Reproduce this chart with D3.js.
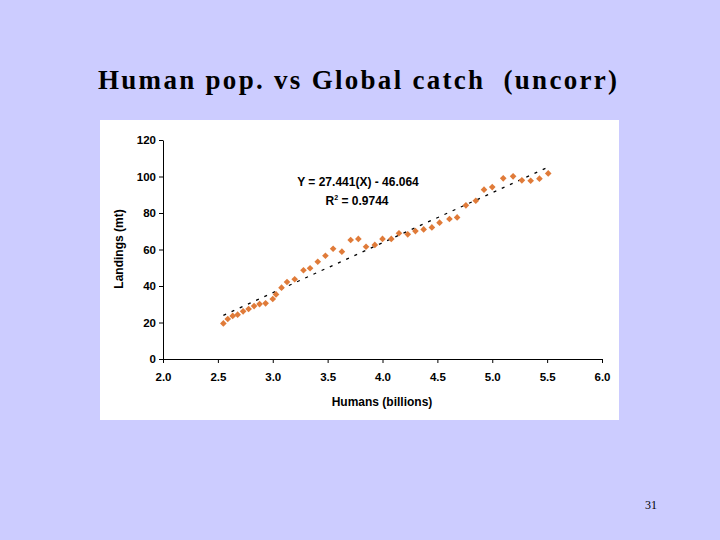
<!DOCTYPE html><html><head><meta charset="utf-8"><script src="https://cdn.jsdelivr.net/npm/d3@7"></script>
<style>body{margin:0;background:#CCCCFF}</style></head><body><svg id="c" width="720" height="540"></svg><script>
const xs=[2.55,2.59,2.635,2.68,2.73,2.78,2.83,2.88,2.935,3.0,3.03,3.08,3.13,3.2,3.28,3.34,3.41,3.48,3.55,3.63,3.71,3.78,3.85,3.93,4.0,4.08,4.15,4.23,4.3,4.375,4.45,4.52,4.61,4.68,4.76,4.85,4.925,5.0,5.1,5.19,5.27,5.35,5.43,5.51];
const ys=[19.5,21.9,23.6,24.3,26.1,27.4,29.0,30.1,30.5,32.9,35.4,39.1,42.2,43.7,48.6,49.7,53.3,56.6,60.4,58.8,65.2,65.8,61.5,62.5,65.8,65.8,68.9,68.3,70.1,71.0,72.1,74.7,76.7,77.6,84.2,86.7,92.8,94.2,99.0,100.1,97.9,97.7,98.8,101.7];
const xTicks=[2.0,2.5,3.0,3.5,4.0,4.5,5.0,5.5,6.0];
const yTicks=[0,20,40,60,80,100,120];
const slope=27.441, intercept=-46.064, trendX=[2.55,5.5];
const svg=d3.select("#c");
svg.append("rect").attr("width",720).attr("height",540).attr("fill","#CCCCFF");
svg.append("text").attr("x",98).attr("y",89).attr("textLength",519).attr("lengthAdjust","spacing").attr("font-family","Liberation Serif").attr("font-size",27).attr("font-weight","bold").text("Human pop. vs Global catch  (uncorr)").style("white-space","pre");
svg.append("text").attr("x",651).attr("y",509).attr("text-anchor","middle").attr("font-family","Liberation Serif").attr("font-size",12).text("31");
svg.append("rect").attr("x",100).attr("y",120).attr("width",519).attr("height",300).attr("fill","#fff");
const x=d3.scaleLinear().domain([2,6]).range([163,602]);
const y=d3.scaleLinear().domain([0,120]).range([359,140]);
const f="Liberation Sans";
const gx=svg.append("g").attr("transform","translate(0,359)").call(d3.axisBottom(x).tickValues(xTicks).tickFormat(d3.format(".1f")).tickSize(4).tickSizeOuter(0));
const gy=svg.append("g").attr("transform","translate(163,0)").call(d3.axisLeft(y).tickValues(yTicks).tickSize(4).tickSizeOuter(0));
[gx,gy].forEach(g=>{g.selectAll("path,line").attr("stroke","#000");g.selectAll("text").attr("font-family",f).attr("font-size",11.5).attr("font-weight","bold").attr("fill","#000");});
gx.selectAll("text").attr("dy","1.3em");
svg.append("line").attr("x1",x(trendX[0])).attr("y1",y(slope*trendX[0]+intercept)).attr("x2",x(trendX[1])).attr("y2",y(slope*trendX[1]+intercept)).attr("stroke","#000").attr("stroke-width",1.3).attr("stroke-dasharray","3,6");
svg.append("g").selectAll("path").data(xs).join("path").attr("d",d3.symbol(d3.symbolSquare,22)()).attr("transform",(d,i)=>`translate(${x(d)},${y(ys[i])}) rotate(45)`).attr("fill","#E07B39");
svg.append("text").attr("x",358).attr("y",186).attr("text-anchor","middle").attr("font-family",f).attr("font-size",12).attr("font-weight","bold").text("Y = 27.441(X) - 46.064");
const r=svg.append("text").attr("x",357).attr("y",205).attr("text-anchor","middle").attr("font-family",f).attr("font-size",12).attr("font-weight","bold");
r.append("tspan").text("R");r.append("tspan").attr("font-size",7).attr("dy",-5).text("2");r.append("tspan").attr("dy",5).text(" = 0.9744");
svg.append("text").attr("x",382).attr("y",406).attr("text-anchor","middle").attr("font-family",f).attr("font-size",12).attr("font-weight","bold").text("Humans (billions)");
svg.append("text").attr("transform","translate(123,249) rotate(-90)").attr("text-anchor","middle").attr("font-family",f).attr("font-size",12).attr("font-weight","bold").text("Landings (mt)");
</script></body></html>
